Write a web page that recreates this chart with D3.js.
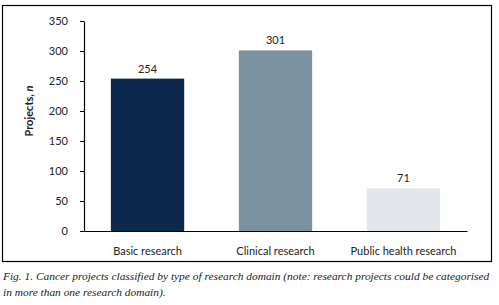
<!DOCTYPE html>
<html>
<head>
<meta charset="utf-8">
<style>
  body { margin: 0; background: #fff; }
  .ax text { font-family: Lato, "Open Sans", sans-serif; font-size: 11px; fill: #222; }
  .val { font-family: Lato, "Open Sans", sans-serif; font-size: 11px; fill: #222; }
  .ytitle { font-family: Lato, "Open Sans", sans-serif; font-size: 11px; font-weight: bold; fill: #222; }
  .cap { font-family: "Liberation Serif", serif; font-style: italic; font-size: 11.4px; fill: #222; }
</style>
<script src="https://d3js.org/d3.v7.min.js"></script>
</head>
<body>
<div id="chart"></div>
<script>
  var categories = ["Basic research", "Clinical research", "Public health research"];
  var projects = [254, 301, 71];
  var barColours = ["#0b2a4b", "#7d92a1", "#e2e5ea"];
  var yTicks = [0, 50, 100, 150, 200, 250, 300, 350];
  var captionLines = [
    "Fig. 1. Cancer projects classified by type of research domain (note: research projects could be categorised",
    "in more than one research domain)."
  ];

  var W = 499, H = 305;
  var margin = { top: 21, left: 84, right: 32, bottom: 74 };
  var width = W - margin.left - margin.right,
      height = H - margin.top - margin.bottom;

  var svg = d3.select("#chart").append("svg")
    .attr("width", W)
    .attr("height", H);

  // frame around the chart
  svg.append("rect")
    .attr("x", 2.5).attr("y", 5.5)
    .attr("width", 489).attr("height", 256)
    .attr("fill", "none")
    .attr("stroke", "#000")
    .attr("stroke-width", 1.2);

  var g = svg.append("g")
    .attr("transform", "translate(" + margin.left + "," + margin.top + ")");

  var x = d3.scaleBand()
    .domain(categories)
    .range([0, width])
    .paddingInner(0.427)
    .paddingOuter(0.21);

  var y = d3.scaleLinear()
    .domain([0, 350])
    .range([height, 0]);

  var yx = g.append("g")
    .attr("class", "ax")
    .call(d3.axisLeft(y).tickValues(yTicks).tickSize(4).tickPadding(12).tickSizeOuter(0));

  g.selectAll(".bar")
    .data(projects)
    .enter().append("rect")
    .attr("x", (d, i) => x(categories[i]))
    .attr("y", d => y(d))
    .attr("width", x.bandwidth())
    .attr("height", d => height - y(d))
    .attr("fill", (d, i) => barColours[i]);

  var xx = g.append("g")
    .attr("class", "ax")
    .attr("transform", "translate(0," + height + ")")
    .call(d3.axisBottom(x).tickSize(0).tickPadding(16));

  g.selectAll(".ax path").attr("stroke", "#000").attr("stroke-width", 1.2);
  g.selectAll(".ax line").attr("stroke", "#000");

  g.selectAll(".val")
    .data(projects)
    .enter().append("text")
    .attr("class", "val")
    .attr("x", (d, i) => x(categories[i]) + x.bandwidth() / 2)
    .attr("y", d => y(d) - 6)
    .attr("text-anchor", "middle")
    .text(d => d);

  var yt = svg.append("text")
    .attr("class", "ytitle")
    .attr("transform", "translate(33," + (margin.top + height / 2 - 15) + ") rotate(-90)")
    .attr("text-anchor", "middle");
  yt.append("tspan").text("Projects, ");
  yt.append("tspan").attr("font-style", "italic").text("n");

  svg.selectAll(".cap")
    .data(captionLines)
    .enter().append("text")
    .attr("class", "cap")
    .attr("x", 3)
    .attr("y", (d, i) => 280 + i * 16)
    .text(d => d);
</script>
</body>
</html>
